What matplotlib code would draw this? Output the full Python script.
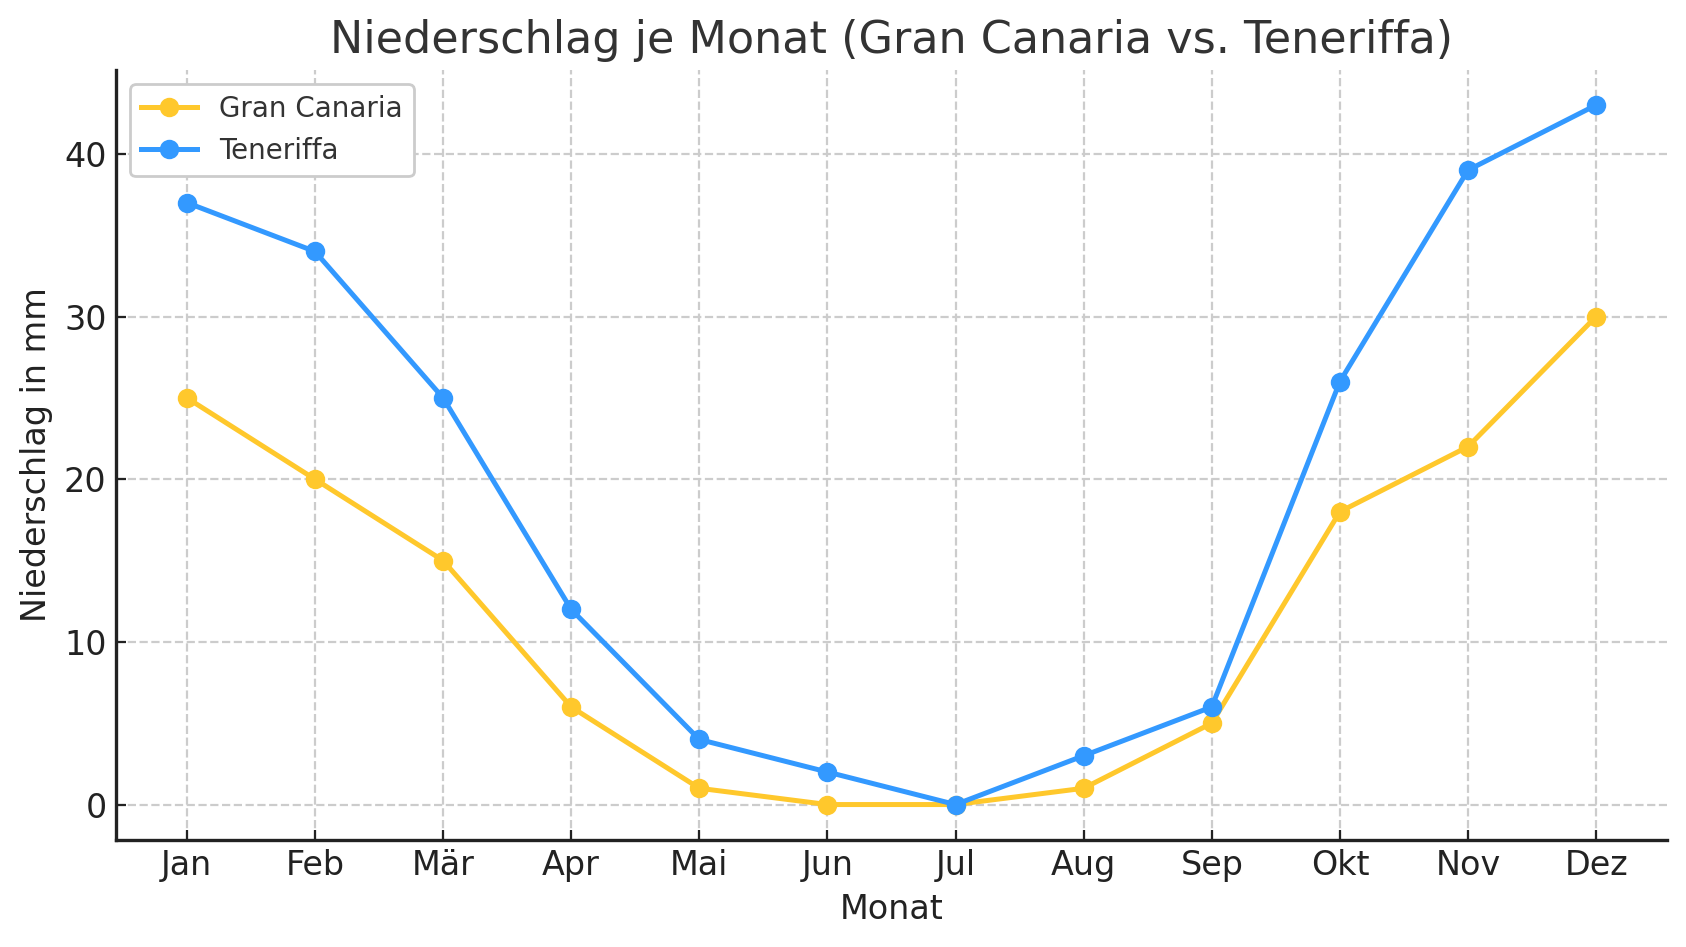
import matplotlib
matplotlib.use("Agg")
import matplotlib.pyplot as plt

monate = ["Jan", "Feb", "Mär", "Apr", "Mai", "Jun", "Jul", "Aug", "Sep", "Okt", "Nov", "Dez"]
gran_canaria = [25, 20, 15, 6, 1, 0, 0, 1, 5, 18, 22, 30]
teneriffa = [37, 34, 25, 12, 4, 2, 0, 3, 6, 26, 39, 43]

GC_COLOR = "#FFC82C"
TF_COLOR = "#3399FF"
TXT = "#222222"

fig, ax = plt.subplots(figsize=(8.43, 4.735), dpi=200)
ax.plot(monate, gran_canaria, marker="o", color=GC_COLOR, linewidth=1.8,
        markersize=6, label="Gran Canaria")
ax.plot(monate, teneriffa, marker="o", color=TF_COLOR, linewidth=1.8,
        markersize=6, label="Teneriffa")

ax.set_title("Niederschlag je Monat (Gran Canaria vs. Teneriffa)",
             fontsize=16, color="#333333")
ax.set_xlabel("Monat", fontsize=12, color=TXT)
ax.set_ylabel("Niederschlag in mm", fontsize=12, color=TXT)
ax.tick_params(labelsize=12, colors=TXT, direction="in")
ax.grid(True, linestyle="--", color="#cccccc", linewidth=0.8)
ax.set_axisbelow(True)
for s in ("top", "right"):
    ax.spines[s].set_visible(False)
for s in ("left", "bottom"):
    ax.spines[s].set_linewidth(1.2)
    ax.spines[s].set_color(TXT)
leg = ax.legend(loc="upper left", fontsize=10, framealpha=1, edgecolor="#cccccc")
for t in leg.get_texts():
    t.set_color("#333333")

fig.subplots_adjust(left=0.069, right=0.9885, top=0.926, bottom=0.1135)
fig.savefig("out.png")
